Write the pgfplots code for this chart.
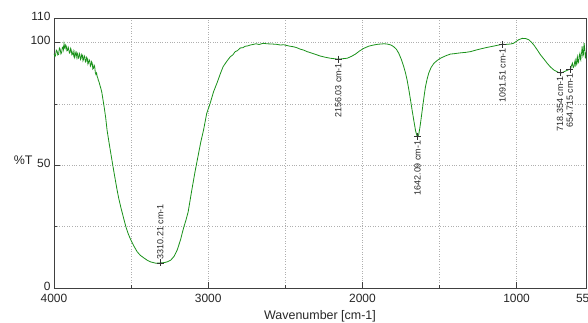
\documentclass[border=0pt]{standalone}
\usepackage{pgfplots}
\pgfplotsset{compat=1.18}
\usepackage{fontspec}
\setmainfont{Liberation Sans}
\definecolor{spec}{RGB}{25,145,25}
\definecolor{gridc}{RGB}{175,175,175}
\begin{document}
\begin{tikzpicture}
\begin{axis}[
  scale only axis, width=532bp, height=270bp,
  at={(0,0)}, anchor=south west,
  x dir=reverse, xmin=550, xmax=4000, ymin=0, ymax=110,
  xtick={4000,3000,2000,1000,550}, minor xtick={3500,2500,1500},
  ytick={0,50,100,110}, minor ytick={25,75},
  xtick pos=bottom, ytick pos=left, tick align=inside,
  major tick length=6bp, minor tick length=3bp,
  tick style={black!75, line width=0.8bp},
  grid=both, grid style={gridc, dotted, line width=0.6bp},
  minor grid style={gridc, dotted, line width=0.6bp},
  axis line style={black!75, line width=0.9bp},
  /pgf/number format/assume math mode=true,
  /pgf/number format/1000 sep={},
  ticklabel style={font=\fontsize{12}{12}\selectfont, text=black!85},
  xticklabel style={yshift=-3bp},
  yticklabel style={yshift=2bp},
  xlabel={Wavenumber [cm-1]}, ylabel={\%T},
  xlabel style={font=\fontsize{12.5}{12.5}\selectfont, at={(axis description cs:0.5,-0.104)}, anchor=center, text=black!85},
  ylabel style={font=\fontsize{12.5}{12.5}\selectfont, rotate=-90, at={(axis description cs:-0.058,0.474)}, anchor=center, text=black!85},
  clip=true,
]
\addplot[spec, line width=0.8bp] coordinates {
(4000,95.5)(3994,94.3)(3990,94.8)(3985,96.9)(3980,96.5)(3975,94.9)(3970,95.2)(3965,97.8)(3960,97.3)(3955,95.4)(3950,96.0)(3946,97.9)(3942,98.2)(3938,97.1)(3935,99.5)(3931,98.0)(3928,97.6)(3924,99.0)(3920,98.4)(3916,96.6)(3912,96.8)(3908,98.1)(3905,97.5)(3900,95.7)(3896,95.9)(3892,97.6)(3888,96.9)(3884,95.0)(3880,95.3)(3876,96.4)(3872,94.6)(3868,93.9)(3864,96.2)(3860,95.4)(3856,94.1)(3852,96.0)(3848,95.5)(3844,93.5)(3840,93.8)(3836,95.6)(3832,95.0)(3828,93.1)(3824,93.6)(3820,95.2)(3816,94.8)(3812,92.6)(3808,93.2)(3804,94.6)(3800,94.1)(3796,92.1)(3792,92.4)(3788,94.0)(3784,93.5)(3780,91.2)(3776,91.8)(3772,93.0)(3768,92.6)(3764,90.4)(3760,90.9)(3756,92.2)(3752,91.6)(3748,89.2)(3744,89.5)(3740,90.8)(3736,90.2)(3732,87.8)(3728,87.0)(3724,87.6)(3720,86.2)(3716,85.6)(3712,84.5)(3708,84.0)(3704,83.0)(3697,81.5)(3690,79.8)(3683,77.0)(3675,73.9)(3665,69.5)(3656,64.4)(3645,60.0)(3632,55.0)(3620,50.5)(3610,46.8)(3600,43.2)(3591,40.0)(3580,36.5)(3567,33.0)(3550,28.8)(3534,25.0)(3518,22.0)(3502,19.6)(3480,16.9)(3461,14.8)(3440,13.3)(3416,12.2)(3395,11.3)(3372,10.6)(3340,10.1)(3310,10.2)(3280,10.4)(3260,10.8)(3242,11.4)(3220,13.0)(3201,15.5)(3180,19.5)(3160,24.4)(3145,27.5)(3130,31.0)(3118,35.5)(3106,40.0)(3085,47.5)(3065,54.0)(3048,59.5)(3030,64.4)(3010,71.0)(2987,75.3)(2965,80.0)(2943,83.5)(2920,87.5)(2903,90.2)(2880,92.3)(2857,94.2)(2840,95.0)(2825,96.3)(2810,96.7)(2792,97.8)(2775,97.9)(2760,98.5)(2745,98.6)(2727,99.0)(2710,99.2)(2690,99.5)(2670,99.2)(2643,99.7)(2620,99.5)(2590,99.4)(2560,99.3)(2532,99.0)(2510,99.1)(2490,98.8)(2470,98.5)(2448,98.3)(2425,97.9)(2403,97.3)(2380,96.9)(2359,96.3)(2338,95.9)(2310,95.3)(2273,94.5)(2240,94.0)(2208,93.6)(2180,93.4)(2156,93.2)(2130,93.4)(2099,93.6)(2070,94.4)(2045,95.3)(2020,96.5)(1992,97.6)(1960,98.5)(1927,99.0)(1900,99.3)(1880,99.4)(1860,99.5)(1840,99.4)(1815,99.0)(1797,98.3)(1780,97.3)(1764,95.6)(1748,93.2)(1732,90.2)(1720,87.5)(1710,84.7)(1698,80.5)(1688,76.6)(1677,72.2)(1667,68.4)(1655,64.0)(1645,61.8)(1642,61.6)(1635,62.5)(1628,65.0)(1623,67.2)(1615,71.0)(1606,75.3)(1598,79.0)(1591,82.0)(1580,85.2)(1570,87.5)(1555,89.8)(1537,91.5)(1515,92.7)(1494,93.6)(1460,94.6)(1429,95.3)(1400,95.5)(1364,95.8)(1330,96.0)(1299,96.3)(1265,96.9)(1234,97.4)(1200,97.9)(1169,98.3)(1130,98.8)(1093,99.3)(1075,99.2)(1060,99.3)(1039,99.4)(1020,99.7)(1006,100.3)(985,101.2)(963,101.7)(940,101.6)(920,101.1)(905,100.2)(888,99.0)(866,97.0)(844,94.9)(822,93.2)(801,91.5)(780,90.0)(758,88.8)(740,88.2)(725,87.7)(710,87.6)(693,88.1)(675,88.6)(660,89.0)(654,89.1)(648,89.6)(645,90.5)(638,91.6)(633,89.8)(628,90.2)(624,91.8)(620,92.8)(616,90.6)(613,91.0)(609,93.3)(606,94.2)(602,91.6)(598,92.0)(594,94.6)(590,95.5)(587,93.4)(584,92.9)(581,95.1)(578,96.0)(575,98.4)(573,97.0)(570,94.5)(567,95.0)(564,98.3)(562,99.7)(559,97.8)(557,96.5)(554,93.8)(552,94.0)(550,96.0)
};
\addplot[only marks, mark=+, mark size=3.5bp, mark options={black!80, line width=0.6bp},
  nodes near coords, point meta=explicit symbolic,
  nodes near coords style={rotate=90, anchor=east, inner sep=3.5bp, font=\fontsize{9}{9}\selectfont, text=black!85}]
  table[meta=lab, row sep=\\] {
  x y lab\\
  2156.03 93.2 {2156.03 cm-1}\\
  1642.09 61.6 {1642.09 cm-1}\\
  1091.51 99.3 {1091.51 cm-1}\\
  718.354 87.7 {718.354 cm-1}\\
  654.715 89.1 {654.715 cm-1}\\
};
\addplot[only marks, mark=+, mark size=3.5bp, mark options={black!80, line width=0.6bp},
  nodes near coords, point meta=explicit symbolic,
  nodes near coords style={rotate=90, anchor=west, inner sep=3.5bp, font=\fontsize{9}{9}\selectfont, text=black!85}]
  table[meta=lab, row sep=\\] {
  x y lab\\
  3310.21 10.2 {3310.21 cm-1}\\
};
\end{axis}
\pgfresetboundingbox
\path[use as bounding box] (-54bp,-35bp) rectangle (534bp,288bp);
\end{tikzpicture}
\end{document}
